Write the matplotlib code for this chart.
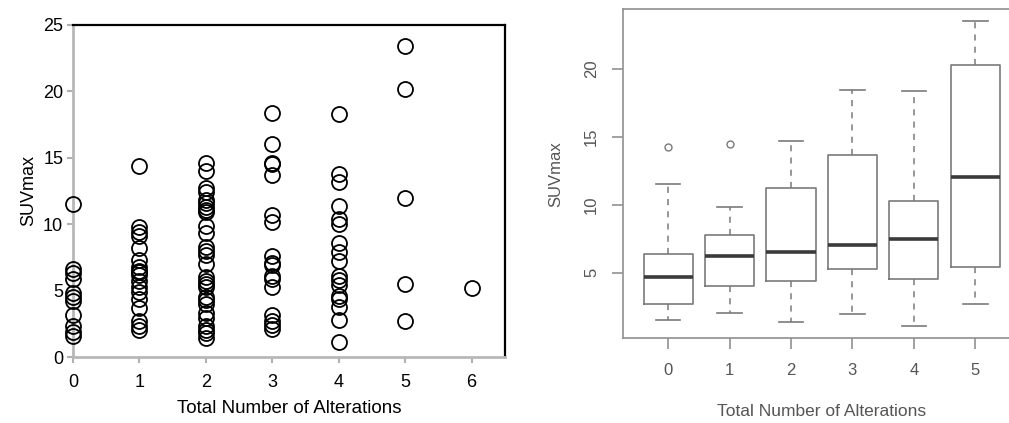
import numpy as np
import matplotlib.pyplot as plt

suv_0 = [11.5, 6.6, 6.3, 5.9, 4.8, 4.5, 4.2, 3.2, 2.3, 1.9, 1.6]
suv_1 = [14.4, 9.8, 9.4, 9.1, 8.2, 7.3, 6.8, 6.5, 6.4, 6.2, 5.7, 5.3, 4.9, 4.4, 3.7, 2.7, 2.3, 2.0]
suv_2 = [14.6, 14.0, 12.7, 12.4, 11.8, 11.6, 11.3, 11.1, 10.9, 9.9, 9.3, 8.3, 8.0, 7.7, 7.0,
         6.0, 5.7, 5.5, 5.3, 4.5, 4.3, 4.0, 3.3, 2.9, 2.3, 2.0, 1.8, 1.4]
suv_3 = [18.4, 16.0, 14.6, 14.5, 13.7, 10.7, 10.2, 7.6, 7.1, 6.9, 6.1, 5.9, 5.3, 3.2, 2.7, 2.4, 2.1]
suv_4 = [18.3, 13.8, 13.2, 11.4, 10.4, 10.0, 8.6, 7.9, 7.2, 6.1, 5.8, 5.4, 4.6, 4.4, 3.8, 2.8, 1.1]
suv_5 = [23.4, 20.2, 12.0, 5.5, 2.7]
suv_6 = [5.2]
grupos = [suv_0, suv_1, suv_2, suv_3, suv_4, suv_5, suv_6]

# estatisticas do boxplot (grafico da direita)
box_labels = ['0', '1', '2', '3', '4', '5']
box_med = [4.7, 6.2, 6.5, 7.0, 7.5, 12.0]
box_q1 = [2.7, 4.0, 4.4, 5.25, 4.55, 5.45]
box_q3 = [6.4, 7.8, 11.2, 13.65, 10.3, 20.25]
box_wlo = [1.55, 2.05, 1.35, 1.95, 1.05, 2.7]
box_whi = [11.5, 9.8, 14.65, 18.45, 18.35, 23.5]
box_fliers = [[14.25], [14.45], [], [], [], []]

fig = plt.figure(figsize=(10.09, 4.23), dpi=100)
plt.rcParams['font.family'] = ['Liberation Sans', 'DejaVu Sans']

# ---- painel esquerdo: dispersao ----
ax1 = fig.add_axes([0.0723, 0.156, 0.428, 0.785])
for i, g in enumerate(grupos):
    ax1.plot([i] * len(g), g, 'o', mfc='none', mec='black', ms=10.8, mew=1.3,
             clip_on=False, zorder=3)
ax1.set_xlim(0, 6.5)
ax1.set_ylim(0, 25)
ax1.set_xticks(range(7))
ax1.set_yticks([0, 5, 10, 15, 20, 25])
ax1.tick_params(labelsize=13, color='#b0b0b0', length=4, width=1.5, pad=8)
ax1.tick_params(axis='y', pad=3)
for s in ['left', 'bottom']:
    ax1.spines[s].set_color('#b8b8b8')
    ax1.spines[s].set_linewidth(2)
for s in ['top', 'right']:
    ax1.spines[s].set_color('black')
    ax1.spines[s].set_linewidth(1.6)
ax1.set_xlabel('Total Number of Alterations', fontsize=13.5, labelpad=7)
ax1.set_ylabel('SUVmax', fontsize=13, labelpad=4)

# ---- painel direito: boxplot estilo R ----
ax2 = fig.add_axes([0.6172, 0.201, 0.3944, 0.777])
stats = []
for i in range(len(box_labels)):
    stats.append({'med': box_med[i], 'q1': box_q1[i], 'q3': box_q3[i],
                  'whislo': box_wlo[i], 'whishi': box_whi[i],
                  'fliers': box_fliers[i], 'label': box_labels[i]})
cinza = '#7a7a7a'
ax2.bxp(stats, positions=range(len(box_labels)), widths=0.8,
        boxprops=dict(color=cinza, linewidth=1.2),
        medianprops=dict(color='#3a3a3a', linewidth=2.6),
        whiskerprops=dict(color=cinza, linewidth=1.1, linestyle=(0, (4, 4))),
        capprops=dict(color=cinza, linewidth=1.2), capwidths=0.4,
        flierprops=dict(marker='o', mfc='none', mec=cinza, ms=5, mew=1.0))
ax2.set_xlim(-0.74, 5.74)
ax2.set_ylim(0.2, 24.35)
ax2.set_yticks([5, 10, 15, 20])
ax2.set_yticklabels(['5', '10', '15', '20'], rotation=90, va='center')
for s in ax2.spines.values():
    s.set_color('#909090')
    s.set_linewidth(1.2)
ax2.tick_params(colors='#909090', labelcolor='#555555', length=8, width=1.2,
                labelsize=12, pad=10)
ax2.tick_params(axis='y', pad=9)
ax2.set_xlabel('Total Number of Alterations', fontsize=12.5, color='#555555', labelpad=19)
ax2.set_ylabel('SUVmax', fontsize=12, color='#555555', labelpad=15)

fig.savefig('out.png', dpi=100)
